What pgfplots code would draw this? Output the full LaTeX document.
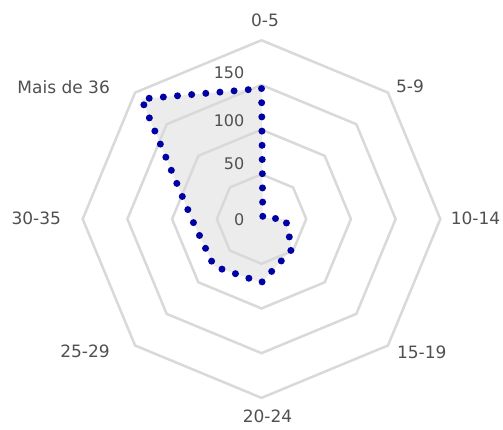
\documentclass[border=0pt]{standalone}
\usepackage{fontspec}
\setmainfont{DejaVu Sans}
\usepackage{pgfplots}
\pgfplotsset{compat=1.18}
\definecolor{gridGray}{RGB}{217,217,217}
\definecolor{fillGray}{RGB}{236,236,236}
\definecolor{dotBlue}{RGB}{0,0,165}
\definecolor{labGray}{RGB}{80,80,80}
\tikzset{
  catlab/.style={font=\fontsize{17}{20}\selectfont, text=labGray, inner sep=0pt},
  ticklab/.style={font=\fontsize{16}{18}\selectfont, text=labGray, inner sep=0pt, anchor=east},
}

\begin{document}
\begin{tikzpicture}
\begin{axis}[
    scale only axis,
    x=0.894pt, y=0.894pt,
    xmin=-292.5, xmax=270.1,
    ymin=-234.9, ymax=245.0,
    hide axis, clip=false,
    every axis plot/.append style={data cs=polar},
]
% filled area of the series
\addplot[draw=none, fill=fillGray] coordinates {
  (90,146) (45,2) (0,27) (-45,48) (-90,71) (-135,75) (180,78) (135,190) (90,146)};
% octagonal grid
\foreach \r in {50,100,150,200} {
  \addplot[gridGray, line width=2.5pt, line join=miter] coordinates {
    (90,\r) (45,\r) (0,\r) (-45,\r) (-90,\r) (-135,\r) (180,\r) (135,\r) (90,\r)};
}
% dotted series line
\addplot[dotBlue, line width=7pt, line cap=round, dash pattern=on 0pt off 14.2pt] coordinates {
  (90,146) (45,2) (0,27) (-45,48) (-90,71) (-135,75) (180,78) (135,190) (90,146)};
% category labels
\node[catlab] at (axis cs:3.9,222.6) {0-5};
\node[catlab] at (axis cs:166.1,148.0) {5-9};
\node[catlab] at (axis cs:239.4,0.8) {10-14};
\node[catlab] at (axis cs:179.2,-148.5) {15-19};
\node[catlab] at (axis cs:6.7,-221.1) {20-24};
\node[catlab] at (axis cs:-197.4,-147.7) {25-29};
\node[catlab] at (axis cs:-251.9,0.8) {30-35};
\node[catlab] at (axis cs:-221.3,147.7) {Mais de 36};
% scale labels
\node[ticklab] at (axis cs:-19,163.9) {150};
\node[ticklab] at (axis cs:-19,110.0) {100};
\node[ticklab] at (axis cs:-19,62.3) {50};
\node[ticklab] at (axis cs:-19,-1.1) {0};
\end{axis}
\pgfresetboundingbox
\path[use as bounding box] (current axis.south west) rectangle (current axis.north east);
\end{tikzpicture}
\end{document}
